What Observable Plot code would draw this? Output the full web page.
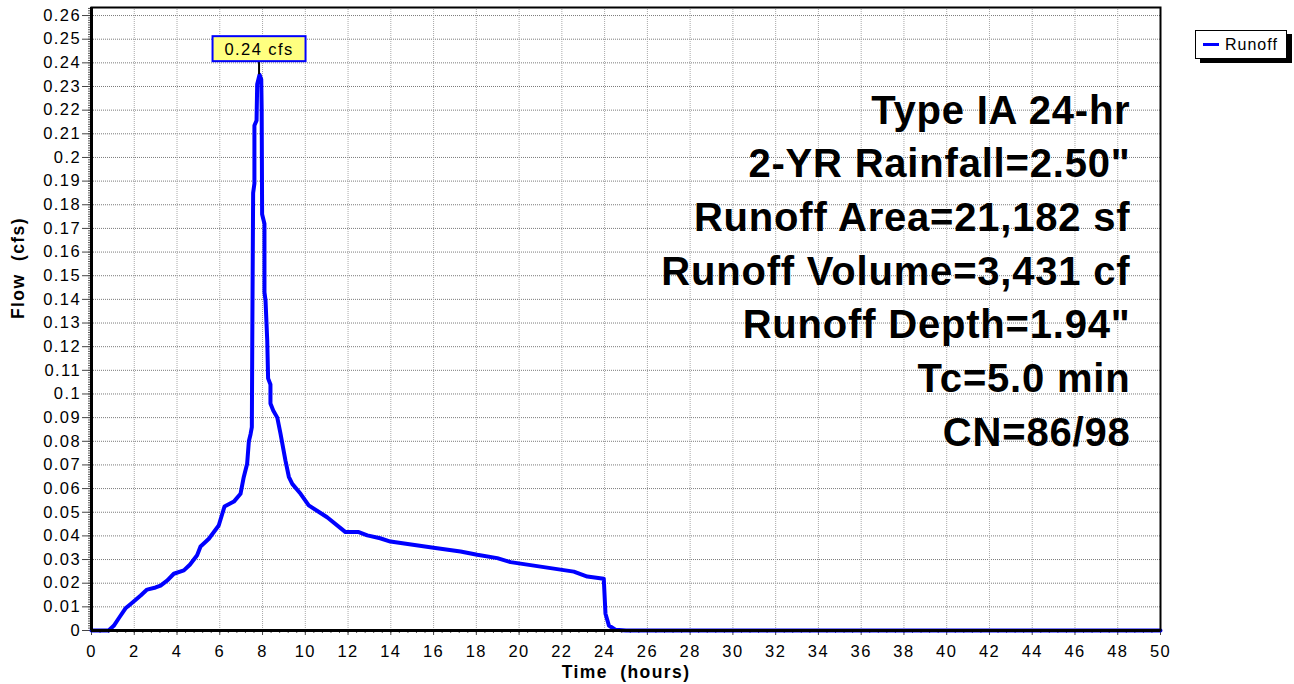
<!DOCTYPE html>
<html>
<head>
<meta charset="utf-8">
<script src="https://cdn.jsdelivr.net/npm/d3@7"></script>
<script src="https://cdn.jsdelivr.net/npm/@observablehq/plot@0.6"></script>
<style>
  html, body { margin: 0; padding: 0; background: #fff; }
  #wrap { position: relative; width: 1294px; height: 684px; font-family: "Liberation Sans", Arial, sans-serif; }
  #legend { position: absolute; left: 1195px; top: 30px; width: 90px; height: 27px; border: 1px solid #000;
            background: #fff; box-shadow: 5px 4px 0 #000; display: flex; align-items: center; font-size: 16px; letter-spacing: 1px; }
  #legend .sw { width: 16px; height: 3px; background: #0000ff; margin: 0 6px 0 7px; }
</style>
</head>
<body>
<div id="wrap"></div>
<script>
const timeHours = [0, 0.8, 1.04, 1.3, 1.59, 1.75, 2.0, 2.3, 2.6, 3.0, 3.23, 3.55, 3.85, 4.32, 4.6, 4.94, 5.1, 5.49, 5.95, 6.22, 6.66, 6.97, 7.12, 7.28, 7.36, 7.44, 7.50, 7.52, 7.56, 7.62, 7.62, 7.72, 7.75, 7.86, 7.94, 7.96, 7.98, 8.09, 8.09, 8.14, 8.22, 8.26, 8.37, 8.37, 8.5, 8.69, 8.84, 9.07, 9.23, 9.39, 9.78, 10.16, 11.02, 11.88, 12.5, 12.9, 13.5, 13.98, 16.0, 17.26, 18.04, 18.98, 19.6, 22.56, 23.19, 23.96, 24.04, 24.2, 24.5, 25, 50];
const flowCfs   = [0, 0, 0.002, 0.0055, 0.0094, 0.0106, 0.0125, 0.0148, 0.0173, 0.0182, 0.019, 0.0212, 0.024, 0.0254, 0.0278, 0.0318, 0.0355, 0.0388, 0.0444, 0.0524, 0.0545, 0.0578, 0.0648, 0.0705, 0.080, 0.083, 0.086, 0.123, 0.185, 0.189, 0.2135, 0.2156, 0.231, 0.235, 0.233, 0.220, 0.176, 0.172, 0.143, 0.1395, 0.1226, 0.1066, 0.104, 0.096, 0.093, 0.090, 0.0832, 0.0719, 0.065, 0.062, 0.0578, 0.0529, 0.0479, 0.0416, 0.0416, 0.0402, 0.039, 0.0376, 0.035, 0.0334, 0.032, 0.0306, 0.0289, 0.0249, 0.0228, 0.0219, 0.0071, 0.0021, 0.0003, 0, 0];
const seriesName = "Runoff";
const peakLabelText = "0.24 cfs";
const xTicks = d3.range(0, 51, 2);
const xMinorTicks = d3.range(0, 50.01, 0.4).map(d => +d.toFixed(1));
const yTicks = d3.range(0, 27).map(i => +(i * 0.01).toFixed(2));
const yMinorTicks = d3.range(0, 264).map(i => +(i * 0.001).toFixed(3));
const infoLines = ["Type IA 24-hr", "2-YR Rainfall=2.50\"", "Runoff Area=21,182 sf", "Runoff Volume=3,431 cf", "Runoff Depth=1.94\"", "Tc=5.0 min", "CN=86/98"];
const xLabel = "Time\u00a0\u00a0(hours)";
const yLabel = "Flow\u00a0\u00a0(cfs)";

const rows = timeHours.map((t, i) => ({t, q: flowCfs[i]}));
const peakIdx = d3.maxIndex(flowCfs);
const fmtY = d => String(+d.toFixed(2));
const fmtX = d => String(d);

function peakLabel(index, scales) {
  const px = scales.x(timeHours[peakIdx]);
  const py = scales.y(flowCfs[peakIdx]);
  const g = d3.create("svg:g");
  const boxW = 93, boxH = 25, gap = 13;
  g.append("line").attr("x1", px).attr("x2", px).attr("y1", py).attr("y2", py - gap)
    .attr("stroke", "#000").attr("stroke-width", 2);
  g.append("rect").attr("x", px - boxW / 2).attr("y", py - gap - boxH).attr("width", boxW).attr("height", boxH)
    .attr("fill", "#ffff80").attr("stroke", "#0000ff").attr("stroke-width", 2);
  g.append("text").attr("x", px).attr("y", py - gap - boxH / 2).attr("dy", "0.36em")
    .attr("text-anchor", "middle").style("font-size", "16.5px").style("letter-spacing", "1.4px")
    .attr("fill", "#000").text(peakLabelText);
  return g.node();
}

const chart = Plot.plot({
  width: 1294,
  height: 684,
  marginLeft: 91,
  marginRight: 134,
  marginTop: 7,
  marginBottom: 54,
  style: {fontFamily: "'Liberation Sans', Arial, sans-serif", background: "#fff", color: "#000", overflow: "visible"},
  x: {domain: [0, 50], label: null},
  y: {domain: [0, 0.2634], label: null},
  marks: [
    Plot.gridY(yTicks, {stroke: "#7a7a7a", strokeOpacity: 1, strokeDasharray: "1,1"}),
    Plot.gridX(xTicks, {stroke: "#a8a8a8", strokeOpacity: 1, strokeDasharray: "1,1"}),
    Plot.axisY(yMinorTicks, {tickSize: 3, text: null, stroke: "#555", label: null}),
    Plot.axisX(xMinorTicks, {tickSize: 3, text: null, stroke: "#555", label: null}),
    Plot.axisY(yTicks, {tickSize: 9, tickPadding: 1.5, stroke: "#444", fontSize: 17, tickFormat: fmtY, label: null}),
    Plot.axisX(xTicks, {tickSize: 5, tickPadding: 10, stroke: "#444", fontSize: 17, tickFormat: fmtX, label: null}),
    Plot.line(rows, {x: "t", y: "q", stroke: "#0000ff", strokeWidth: 4, curve: "linear"}),
    Plot.frame({stroke: "#000", strokeWidth: 2}),
    Plot.ruleX([0], {stroke: "#000", strokeWidth: 3}),
    Plot.ruleY([0], {stroke: "#000", strokeWidth: 3}),
    peakLabel,
    Plot.text([infoLines.join("\n")], {text: d => d, frameAnchor: "top-right", textAnchor: "end", lineAnchor: "top",
      dx: -30, dy: 78, fontSize: 40, fontWeight: "bold", lineHeight: 1.3425, fill: "#000"}),
    Plot.text([xLabel], {text: d => d, frameAnchor: "bottom", lineAnchor: "middle", dy: 42, fontSize: 17.5, fontWeight: "bold", fill: "#000"}),
    Plot.text([yLabel], {text: d => d, frameAnchor: "left", lineAnchor: "middle", rotate: -90, dx: -73, fontSize: 17.5, fontWeight: "bold", fill: "#000"})
  ]
});

// widen glyph spacing to match the reference's stretched text
const tickStrings = new Set([...yTicks.map(fmtY), ...xTicks.map(fmtX)]);
d3.select(chart).selectAll("text").each(function() {
  if (this.querySelector("tspan")) return;
  const s = this.textContent;
  if (tickStrings.has(s)) {
    this.style.fontSize = "16.5px";
    this.style.letterSpacing = "1.4px";
  } else if (s === xLabel || s === yLabel) {
    this.style.letterSpacing = "1.4px";
  }
});
d3.select(chart).selectAll("tspan").style("letter-spacing", "0.8px");

const wrap = document.getElementById("wrap");
wrap.appendChild(chart);
const legend = document.createElement("div");
legend.id = "legend";
legend.innerHTML = `<span class="sw"></span><span>${seriesName}</span>`;
wrap.appendChild(legend);
</script>
</body>
</html>
